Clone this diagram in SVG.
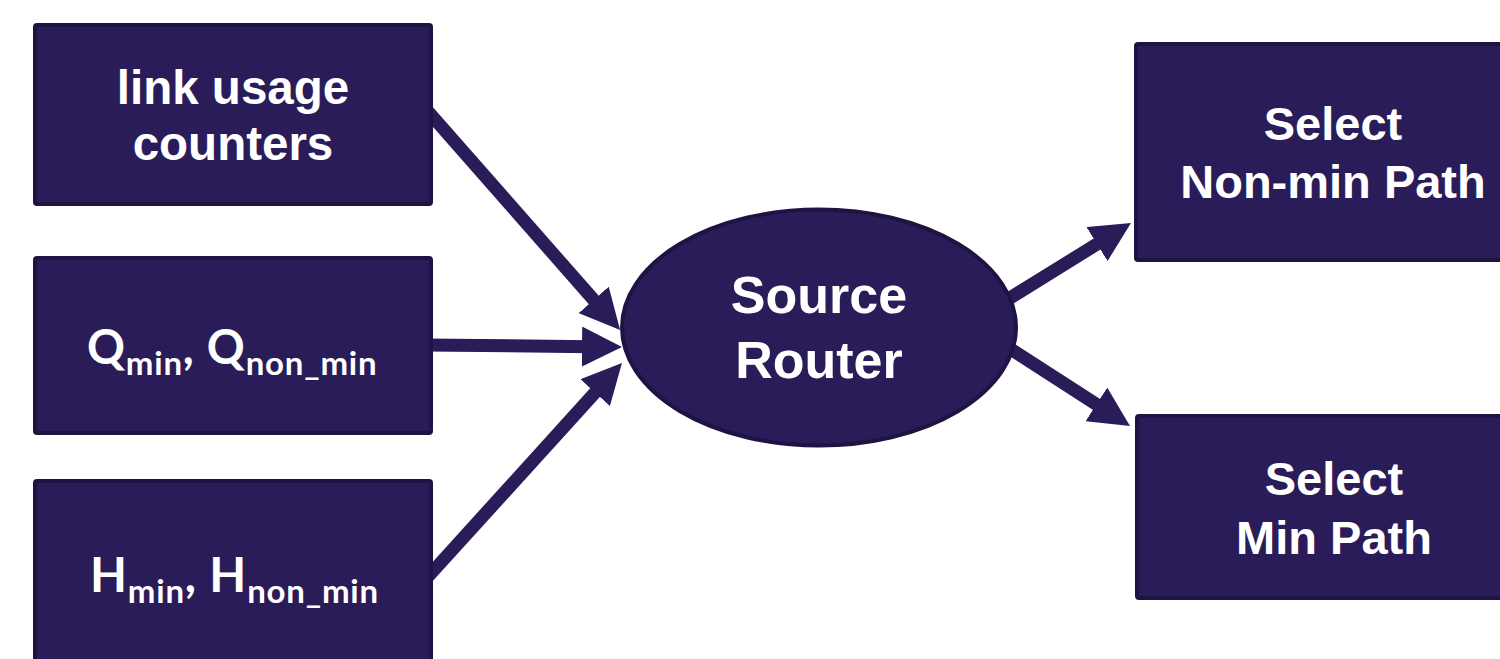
<svg xmlns="http://www.w3.org/2000/svg" width="1500" height="659" viewBox="0 0 1500 659">
<style>
.node{fill:#2a1c59;stroke:#1e1343;stroke-width:4}
.lbl{fill:#ffffff;font-family:"Liberation Sans",Arial,sans-serif;font-weight:bold;text-anchor:middle}
.sym{fill:#ffffff;font-family:Lato,"Open Sans",sans-serif;font-weight:bold;letter-spacing:0.8px}
.conn{stroke:#2a1c59;stroke-width:13;fill:none;marker-end:url(#ah)}
</style>
<defs>
<marker id="ah" markerUnits="userSpaceOnUse" markerWidth="40" markerHeight="40" refX="10" refY="20" orient="auto" viewBox="0 0 40 40">
<path d="M0,0 L40,20 L0,40 Z" fill="#2a1c59"/>
</marker>
</defs>
<rect width="1500" height="659" fill="#ffffff"/>
<g id="connectors">
<line class="conn" x1="425" y1="108" x2="600.3" y2="307.4"/>
<line class="conn" x1="425" y1="345" x2="592" y2="346.7"/>
<line class="conn" x1="425" y1="580" x2="601.8" y2="385.2"/>
<line class="conn" x1="993" y1="308.5" x2="1105.5" y2="238.8"/>
<line class="conn" x1="995" y1="339" x2="1104.8" y2="409.8"/>
</g>
<g id="link-usage">
<rect class="node" x="35" y="25" width="396" height="179" rx="2"/>
<text class="lbl" font-size="47.5"><tspan x="233" y="104">link usage</tspan><tspan x="233" y="160">counters</tspan></text>
</g>
<g id="q-values">
<rect class="node" x="35" y="258" width="396" height="175" rx="2"/>
<text class="sym" font-size="47" x="87" y="364">Q<tspan font-size="33" dy="11">min</tspan><tspan dy="-11">, Q</tspan><tspan font-size="33" dy="11">non_min</tspan></text>
</g>
<g id="h-values">
<rect class="node" x="35" y="481" width="396" height="190" rx="2"/>
<text class="sym" font-size="48" x="90" y="592">H<tspan font-size="33" dy="11">min</tspan><tspan dy="-11">, H</tspan><tspan font-size="33" dy="11">non_min</tspan></text>
</g>
<g id="source-router">
<ellipse class="node" cx="819" cy="327.5" rx="197" ry="118"/>
<text class="lbl" font-size="52"><tspan x="819" y="313">Source</tspan><tspan x="819" y="378">Router</tspan></text>
</g>
<g id="non-min-path">
<rect class="node" x="1136" y="44" width="380" height="216" rx="2"/>
<text class="lbl" font-size="47"><tspan x="1333" y="140">Select</tspan><tspan x="1333" y="198">Non-min Path</tspan></text>
</g>
<g id="min-path">
<rect class="node" x="1137" y="416" width="380" height="182" rx="2"/>
<text class="lbl" font-size="47"><tspan x="1334" y="495">Select</tspan><tspan x="1334" y="554">Min Path</tspan></text>
</g>
</svg>
